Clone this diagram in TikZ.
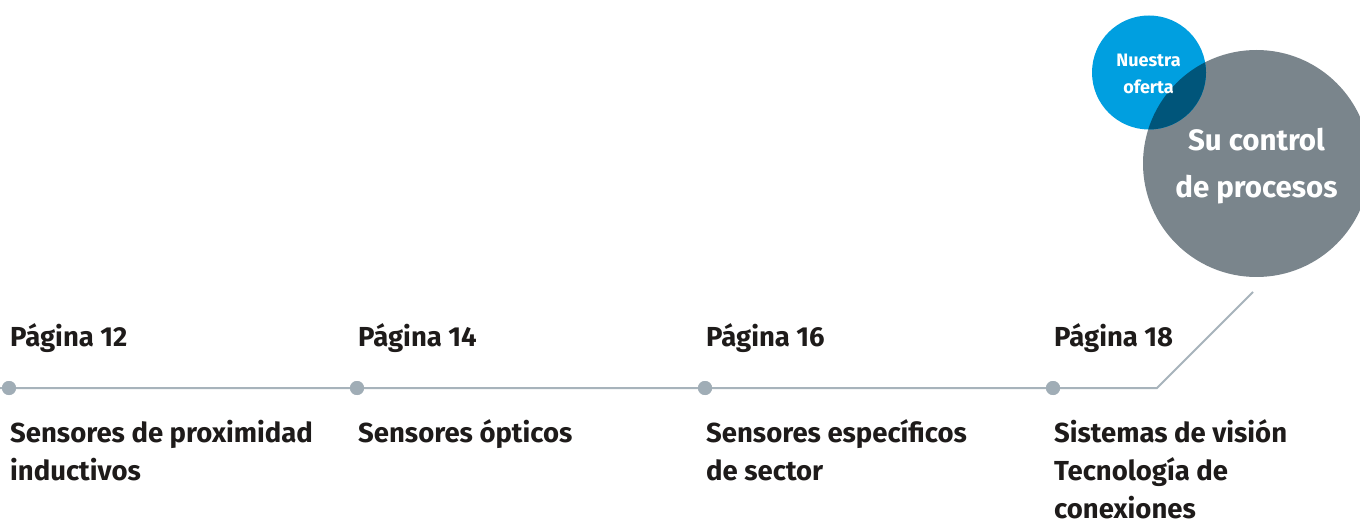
\documentclass[tikz,border=0pt]{standalone}
\usepackage{fontspec}
\setmainfont{Fira Sans}
\definecolor{txt}{HTML}{1E1B1A}
\definecolor{linec}{HTML}{A7B3BB}
\definecolor{dotc}{HTML}{A0ADB6}
\definecolor{grayc}{HTML}{7A858C}
\definecolor{bluec}{HTML}{009FE0}
\definecolor{overc}{HTML}{00557A}
\newcommand{\lns}[2]{\begin{tabular}[t]{@{}#1@{}}#2\end{tabular}}
\begin{document}
\begin{tikzpicture}[x=1pt,y=-1pt,
  lab/.style={anchor=base west,inner sep=0pt,text=txt,font=\fontsize{27.5}{38}\selectfont\bfseries},
  dot/.style={circle,fill=dotc,minimum size=14pt,inner sep=0pt},
  tl/.style={draw=linec,line width=2pt}]
\clip (0,0) rectangle (1360,521);
\fill[white] (0,0) rectangle (1360,521);
% circles
\fill[grayc] (1256.5,163.5) circle (113.5);
\fill[bluec] (1149,72.5) circle (57);
\begin{scope}
\clip (1256.5,163.5) circle (113.5);
\fill[overc] (1149,72.5) circle (57);
\end{scope}
\node[anchor=base,inner sep=0pt,text=white,font=\fontsize{18}{27}\selectfont\bfseries] (offer) at (1148.5,67) {\lns{c}{Nuestra\\oferta}};
\node[anchor=base,inner sep=0pt,text=white,font=\fontsize{29.5}{47}\selectfont\bfseries] (ctrl) at (1256.5,151) {\lns{c}{Su control\\de procesos}};
% timeline
\node[dot] (d1) at (9,388) {};
\node[dot] (d2) at (357,388) {};
\node[dot] (d3) at (705,388) {};
\node[dot] (d4) at (1053,388) {};
\coordinate (s) at (-5,388);
\coordinate (k) at (1157,388);
\coordinate (e) at (1253,292);
\draw[tl] (s) -- (d1) -- (d2) -- (d3) -- (d4) -- (k) -- (e);
\node[dot] at (d1) {};
\node[dot] at (d2) {};
\node[dot] at (d3) {};
\node[dot] at (d4) {};
% labels
\node[lab] (p1) at (10,346) {Página 12};
\node[lab] (p2) at (358,346) {Página 14};
\node[lab] (p3) at (706,346) {Página 16};
\node[lab] (p4) at (1054,346) {Página 18};
\node[lab] (t1) at (10,442) {\lns{l}{Sensores de proximidad\\inductivos}};
\node[lab] (t2) at (358,442) {Sensores ópticos};
\node[lab] (t3) at (706,442) {\lns{l}{Sensores específicos\\de sector}};
\node[lab] (t4) at (1054,442) {\lns{l}{Sistemas de visión\\Tecnología de\\conexiones}};
\end{tikzpicture}
\end{document}
